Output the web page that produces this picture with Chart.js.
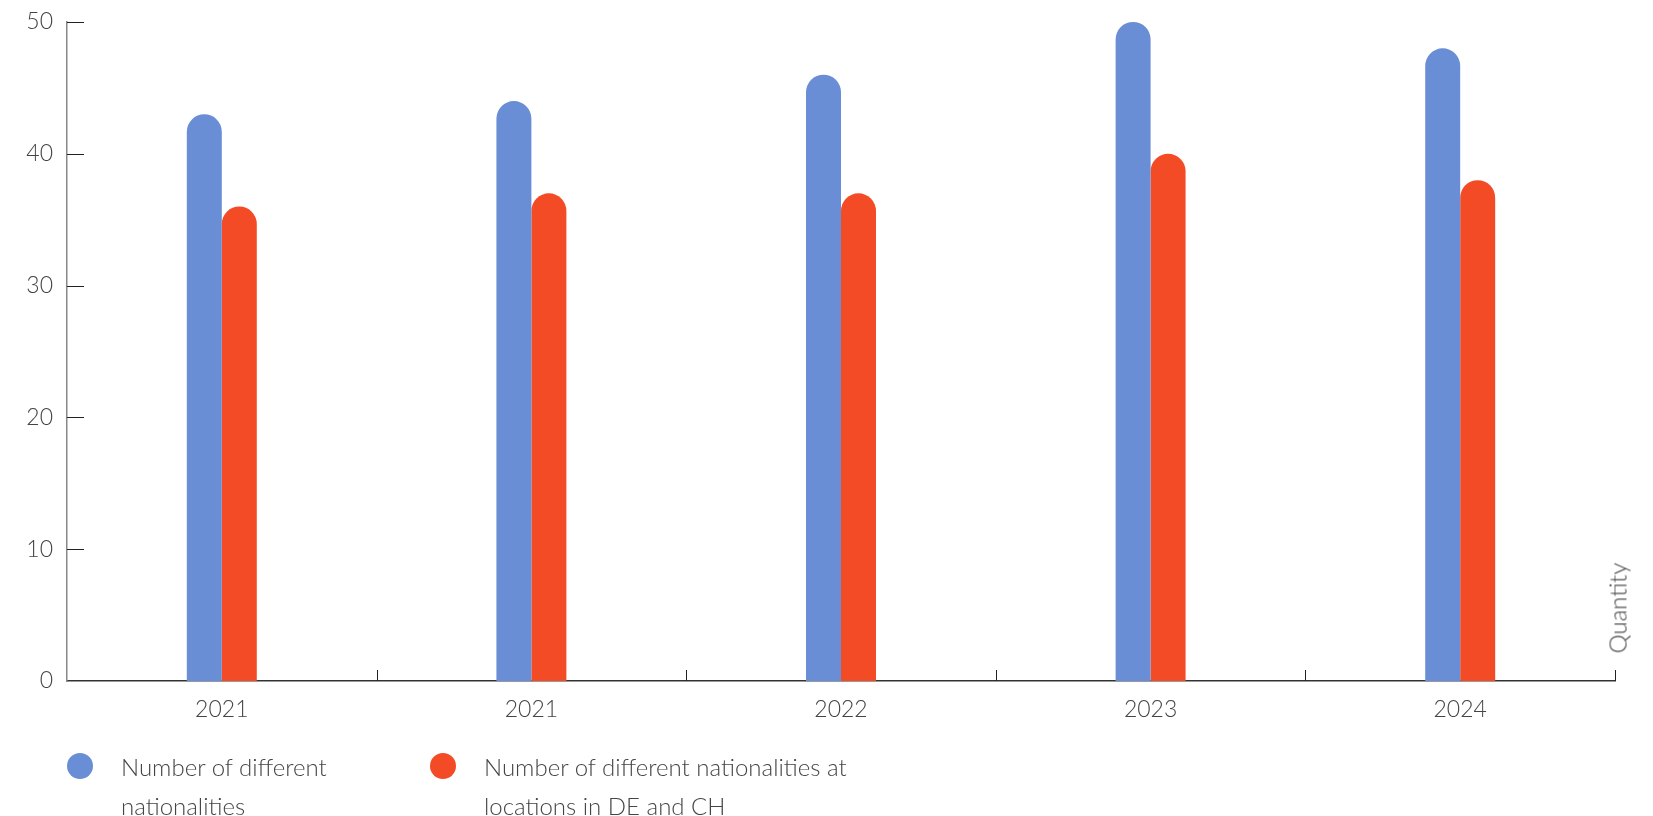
<!DOCTYPE html>
<html>
<head>
  <title>Nationalities</title>
  <style>
    html, body { margin: 0; padding: 0; background: #fff; }
    #wrap { position: relative; width: 1653px; height: 816px; font-family: Lato, "Open Sans", sans-serif; font-weight: 300; color: #444; }
    .leg { position: absolute; top: 747px; font-size: 24px; line-height: 39px; }
    .dot { position: absolute; width: 26px; height: 26px; border-radius: 50%; top: 6px; }
    .leg span.txt { position: absolute; left: 54px; top: 0; white-space: nowrap; }
    #qty { position: absolute; left: 1617px; top: 608px; font-size: 24px; transform: translate(-50%, -50%) rotate(-90deg); white-space: nowrap; }
  </style>
</head>
<body>
<div id="wrap">
  <canvas id="natChart" width="1653" height="816"></canvas>
  <div class="leg" style="left:67px;"><div class="dot" style="background:#698ed5;"></div><span class="txt">Number of different<br>nationalities</span></div>
  <div class="leg" style="left:430px;"><div class="dot" style="background:#f24b26;"></div><span class="txt">Number of different nationalities at<br>locations in DE and CH</span></div>
  <div id="qty">Quantity</div>
</div>

<script src="https://cdn.jsdelivr.net/npm/chart.js"></script>
<script>
  const years = ['2021', '2021', '2022', '2023', '2024'];
  const allNationalities = [43, 44, 46, 50, 48];
  const deChNationalities = [36, 37, 37, 40, 38];
  const yTicks = [0, 10, 20, 30, 40, 50];

  const blue = '#698ed5';
  const red = '#f24b26';
  const fontFam = 'Lato, "Open Sans", sans-serif';

  // inward tick marks on both axes
  const tickMarks = {
    id: 'tickMarks',
    afterDraw(chart) {
      const c = chart.ctx;
      const xs = chart.scales.x;
      const ys = chart.scales.y;
      c.save();
      c.strokeStyle = '#222';
      c.lineWidth = 1;
      yTicks.forEach(v => {
        const y = Math.round(ys.getPixelForValue(v)) + 0.5;
        if (v === 0) return;
        c.beginPath();
        c.moveTo(xs.left, y);
        c.lineTo(xs.left + 17, y);
        c.stroke();
      });
      const step = (xs.right - xs.left) / years.length;
      for (let i = 1; i <= years.length; i++) {
        const x = Math.round(xs.left + i * step) + 0.5;
        c.beginPath();
        c.moveTo(x, xs.top);
        c.lineTo(x, xs.top - 11);
        c.stroke();
      }
      c.restore();
    }
  };

  new Chart(document.getElementById('natChart'), {
    type: 'bar',
    data: {
      labels: years,
      datasets: [
        {
          label: 'Number of different nationalities',
          data: allNationalities,
          backgroundColor: blue,
          borderRadius: { topLeft: 20, topRight: 20, bottomLeft: 0, bottomRight: 0 },
          borderSkipped: 'bottom'
        },
        {
          label: 'Number of different nationalities at locations in DE and CH',
          data: deChNationalities,
          backgroundColor: red,
          borderRadius: { topLeft: 20, topRight: 20, bottomLeft: 0, bottomRight: 0 },
          borderSkipped: 'bottom'
        }
      ]
    },
    options: {
      responsive: false,
      animation: false,
      categoryPercentage: 0.226,
      barPercentage: 1,
      layout: { padding: { left: 0, right: 38, top: 22, bottom: 0 } },
      plugins: {
        legend: { display: false },
        tooltip: { enabled: false }
      },
      scales: {
        x: {
          grid: { display: false, drawTicks: false },
          border: { display: true, color: '#333', width: 1.5 },
          ticks: { color: '#444', padding: 15, font: { family: fontFam, size: 23, weight: 300 } },
          afterFit(s) { s.height = 135; }
        },
        y: {
          min: 0,
          max: 50,
          afterBuildTicks(s) { s.ticks = yTicks.map(v => ({ value: v })); },
          grid: { display: false, drawTicks: false },
          border: { display: true, color: '#888', width: 1.5 },
          ticks: { color: '#444', padding: 14, font: { family: fontFam, size: 23, weight: 300 } },
          afterFit(s) { s.width = 67; s.paddingTop = 0; s.paddingBottom = 0; }
        }
      }
    },
    plugins: [tickMarks]
  });
</script>
</body>
</html>
